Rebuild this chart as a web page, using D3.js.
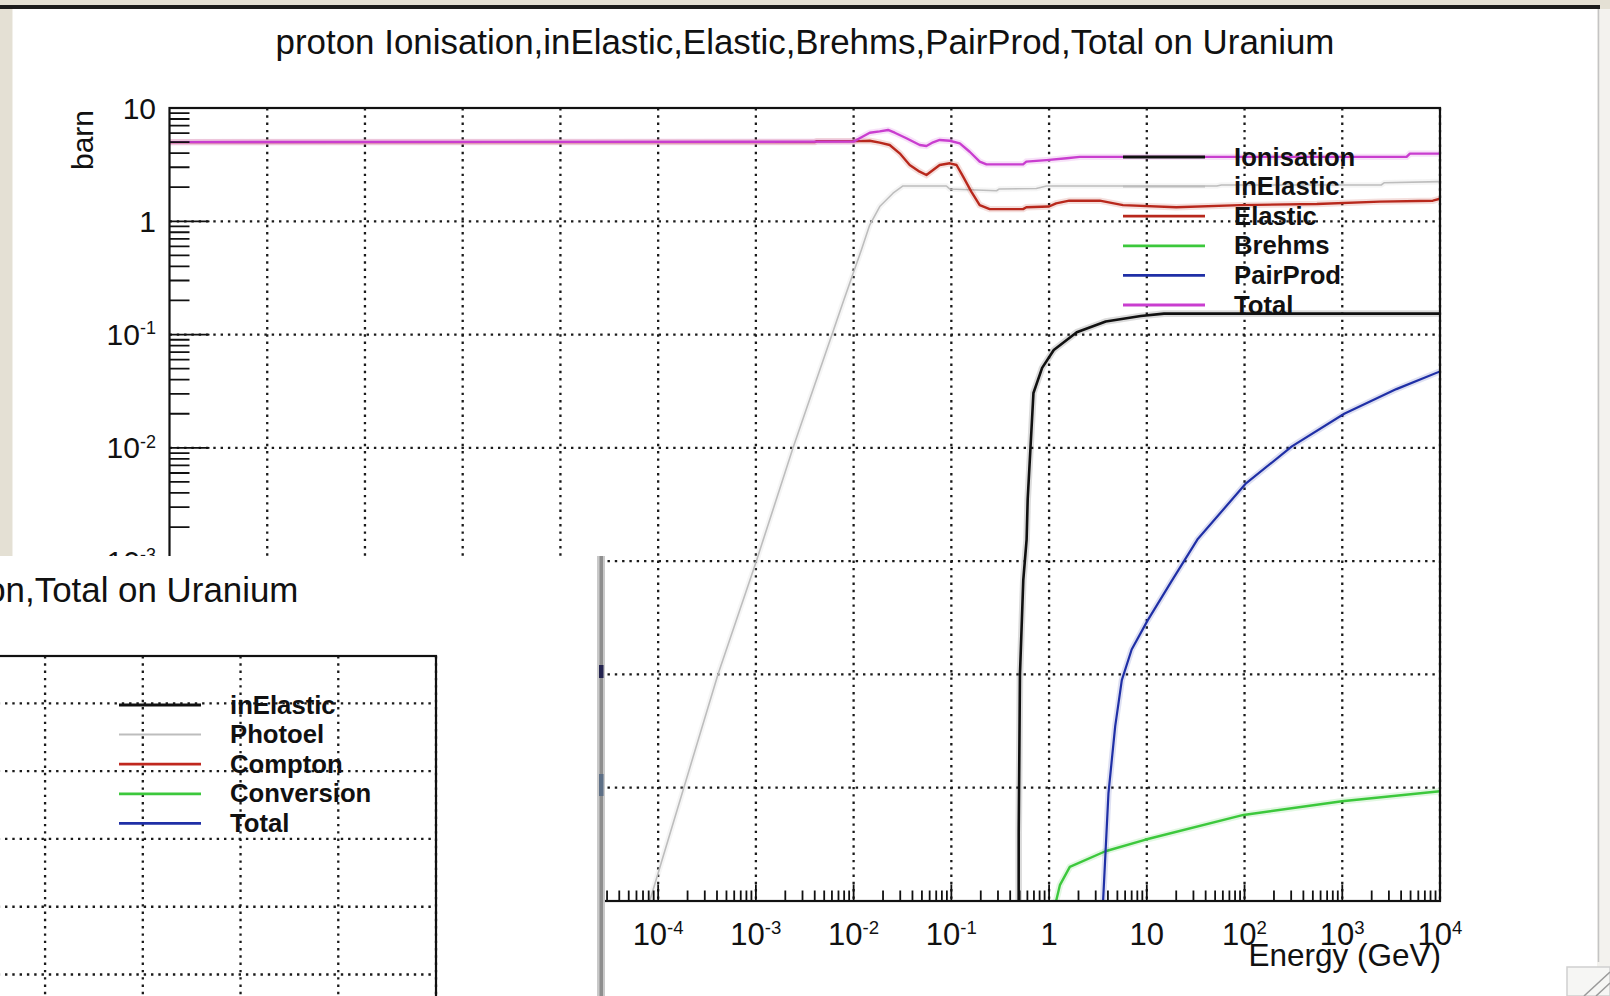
<!DOCTYPE html>
<html>
<head>
<meta charset="utf-8">
<script src="https://cdn.jsdelivr.net/npm/d3@7"></script>
<style>
    body { margin: 0; background: #e4e0d4; }
    svg { display: block; }
    text { font-family: "Liberation Sans", Arial, Helvetica, sans-serif; fill: #111; }
</style>
</head>
<body>
<div id="vis"></div>
<script>

const l = console.log

// energy (GeV), cross section (barn)
const ionisation = [[0.488, 1e-7], [0.489, 4e-6], [0.5035, 1.0e-4], [0.5445, 6.8e-4], [0.589, 1.55e-3],
    [0.604, 3.5e-3], [0.692, 0.0305], [0.849, 0.0508], [1.117, 0.0731], [1.92, 0.105],
    [3.80, 0.1306], [8.67, 0.146], [15.0, 0.153], [1e4, 0.153]];

const inElastic = [[3.7e-5, 1e-7], [8.2e-5, 1e-6], [4.09e-4, 1e-4], [1.01e-3, 1e-3], [2.40e-3, 1e-2],
    [6.01e-3, 0.1], [7.94e-3, 0.202], [0.0120, 0.558], [0.0146, 0.927], [0.0185, 1.35],
    [0.0253, 1.77], [0.032, 2.05], [0.089, 2.05], [0.096, 1.93], [0.29, 1.86], [0.31, 1.93],
    [0.74, 1.95], [0.94, 2.05], [52, 2.05], [58, 2.09], [2500, 2.09], [2700, 2.19], [1e4, 2.24]];

const elastic = [[1e-9, 5.0], [0.0040, 5.0], [0.0042, 5.1], [0.0115, 5.1], [0.0146, 5.14],
    [0.0185, 4.94], [0.0234, 4.71], [0.0296, 3.98], [0.0375, 3.14], [0.0474, 2.74], [0.0556, 2.56],
    [0.065, 2.84], [0.076, 3.14], [0.0964, 3.25], [0.113, 3.14], [0.132, 2.48], [0.16, 1.83],
    [0.195, 1.39], [0.247, 1.28], [0.542, 1.28], [0.585, 1.33], [1.0, 1.35], [1.18, 1.44],
    [1.61, 1.52], [3.3, 1.52], [5.7, 1.39], [20, 1.33], [90, 1.39], [550, 1.42], [2430, 1.49],
    [8450, 1.52], [1e4, 1.58]];

const brehms = [[1.17, 1e-7], [1.18, 1e-6], [1.29, 1.38e-6], [1.63, 2.0e-6], [3.77, 2.75e-6],
    [9.55, 3.47e-6], [97.5, 5.75e-6], [993, 7.6e-6], [1e4, 9.3e-6]];

const pairProd = [[3.55, 1e-7], [3.57, 1e-6], [4.05, 8.9e-6], [4.75, 3.5e-5], [5.55, 8.9e-5],
    [7.0, 1.66e-4], [10.2, 3.0e-4], [17.6, 6.5e-4], [32.9, 1.55e-3], [102, 4.8e-3],
    [305, 0.0103], [1047, 0.020], [3580, 0.033], [1e4, 0.0473]];

const total = [[1e-9, 5.0], [0.01, 5.05], [0.01153, 5.41], [0.01462, 6.05], [0.01849, 6.22],
    [0.0225, 6.40], [0.02636, 6.05], [0.0347, 5.41], [0.0475, 4.71], [0.0556, 4.62], [0.065, 4.98],
    [0.076, 5.22], [0.0963, 5.14], [0.122, 4.88], [0.154, 4.11], [0.195, 3.36], [0.229, 3.18],
    [0.542, 3.18], [0.585, 3.36], [0.94, 3.47], [1.51, 3.60], [2.06, 3.70], [4550, 3.70],
    [4920, 3.96], [1e4, 3.96]];

const protonNames = ["Ionisation", "inElastic", "Elastic", "Brehms", "PairProd", "Total"];
const protonSeries = [ionisation, inElastic, elastic, brehms, pairProd, total];
const protonColors = ["#111111", "#bdbdbd", "#b8281c", "#3cc83c", "#1f2fa6", "#c93ecf"];
const protonWidths = [2.6, 1.6, 2.4, 2.4, 2.2, 2.4];

// the second (partly hidden) window: only its title end, frame, grid and legend are on screen
const gammaNames = ["inElastic", "Photoel", "Compton", "Conversion", "Total"];
const gammaColors = ["#111111", "#bdbdbd", "#c0281e", "#3cc83c", "#1f2fa6"];
const gammaWidths = [2.6, 1.6, 2.4, 2.4, 2.2];

const protonTitle = "proton Ionisation,inElastic,Elastic,Brehms,PairProd,Total on Uranium";
const gammaTitle = "gamma inElastic,Photoel,Compton,Conversion,Total on Uranium";

const xDomain = [1e-9, 1e4];
const xExps = d3.range(-9, 5);          // 10^-9 .. 10^4
const protonYDomain = [1e-6, 10];
const protonYExps = d3.range(-6, 2);
const gammaYDomain = [1e-10, 50];
const gammaYExps = d3.range(-10, 2);

const W = 1610, H = 996;
const coverX = 605, coverY = 556;       // corner of the window lying on top

const svg = d3.select("#vis").append("svg")
    .attr("width", W)
    .attr("height", H);

const defs = svg.append("defs");

// desktop background
svg.append("rect").attr("width", W).attr("height", H).attr("fill", "#e4e0d4");

function powLabel(sel, k, size) {
    if (k === 0) sel.text("1");
    else if (k === 1) sel.text("10");
    else {
        sel.append("tspan").text("10");
        sel.append("tspan")
            .attr("dy", -size * 0.36)
            .attr("font-size", size * 0.6)
            .text(k);
    }
}

function drawCanvas(root, cfg) {
    const g = root.append("g").attr("transform", `translate(${cfg.dx},${cfg.dy})`);

    const x = d3.scaleLog().domain(xDomain).range([169.5, 1440]);
    const y = d3.scaleLog().domain(cfg.yDomain).range([901, 108]);
    const [x0, x1] = x.range();
    const [y0, y1] = y.range();

    // hidden parts (under the other window / off screen) get no text
    const shown = (px, py) => cfg.showAll ? !(px < coverX && py > coverY + 20) : false;

    defs.append("clipPath").attr("id", cfg.id + "-plot")
        .append("rect")
        .attr("x", x0).attr("y", y1)
        .attr("width", x1 - x0).attr("height", y0 - y1);

    // title
    g.append("text")
        .attr("x", 805).attr("y", 54)
        .attr("text-anchor", "middle")
        .attr("font-size", 34.9)
        .text(cfg.title);

    // grid
    const grid = g.append("g")
        .attr("stroke", "#1a1a1a")
        .attr("stroke-width", 2.3)
        .attr("stroke-dasharray", "2.4 4.9");
    xExps.filter(k => k > -9).forEach(k => {
        grid.append("line")
            .attr("x1", x(Math.pow(10, k))).attr("x2", x(Math.pow(10, k)))
            .attr("y1", y1).attr("y2", y0);
    });
    cfg.yExps.forEach(k => {
        const v = Math.pow(10, k);
        if (v <= cfg.yDomain[0] || v >= cfg.yDomain[1]) return;
        grid.append("line")
            .attr("x1", x0).attr("x2", x1)
            .attr("y1", y(v)).attr("y2", y(v));
    });

    // curves
    const line = d3.line()
        .x(d => x(d[0]))
        .y(d => y(d[1]));
    const curves = g.append("g").attr("clip-path", `url(#${cfg.id}-plot)`);
    cfg.series.forEach((s, i) => {
        curves.append("path")
            .attr("d", line(s))
            .attr("fill", "none")
            .attr("stroke", cfg.colors[i])
            .attr("stroke-opacity", 0.15)
            .attr("stroke-width", cfg.widths[i] + 4);
        curves.append("path")
            .attr("d", line(s))
            .attr("fill", "none")
            .attr("stroke", cfg.colors[i])
            .attr("stroke-linejoin", "round")
            .attr("stroke-width", cfg.widths[i]);
    });

    // frame
    g.append("rect")
        .attr("x", x0).attr("y", y1)
        .attr("width", x1 - x0).attr("height", y0 - y1)
        .attr("fill", "none")
        .attr("stroke", "#111")
        .attr("stroke-width", 2.2);

    // x ticks
    const ticks = g.append("g").attr("stroke", "#111").attr("stroke-width", 1.8);
    xExps.forEach(k => {
        const v = Math.pow(10, k);
        ticks.append("line")
            .attr("x1", x(v)).attr("x2", x(v))
            .attr("y1", y0).attr("y2", y0 - 16.5);
        if (k < 4) d3.range(2, 10).forEach(m => {
            ticks.append("line")
                .attr("x1", x(m * v)).attr("x2", x(m * v))
                .attr("y1", y0).attr("y2", y0 - 10.5);
        });
    });
    // y ticks
    cfg.yExps.forEach(k => {
        const v = Math.pow(10, k);
        if (v >= cfg.yDomain[0] && v <= cfg.yDomain[1]) {
            ticks.append("line")
                .attr("x1", x0).attr("x2", x0 + 40)
                .attr("y1", y(v)).attr("y2", y(v));
        }
        d3.range(2, 10).forEach(m => {
            const w = m * v;
            if (w <= cfg.yDomain[0] || w >= cfg.yDomain[1]) return;
            ticks.append("line")
                .attr("x1", x0).attr("x2", x0 + 20)
                .attr("y1", y(w)).attr("y2", y(w));
        });
    });

    // tick labels
    xExps.forEach(k => {
        const px = x(Math.pow(10, k));
        if (!shown(px, 945)) return;
        g.append("text")
            .attr("x", px)
            .attr("y", 945)
            .attr("text-anchor", "middle")
            .attr("font-size", 31)
            .call(powLabel, k, 31);
    });
    cfg.yExps.forEach(k => {
        const v = Math.pow(10, k);
        if (v < cfg.yDomain[0] || v > cfg.yDomain[1]) return;
        if (!shown(156, y(v) - 12)) return;
        g.append("text")
            .attr("x", 156)
            .attr("y", y(v) + 10.5)
            .attr("text-anchor", "end")
            .attr("font-size", 30)
            .call(powLabel, k, 30);
    });

    // axis titles
    if (cfg.showAll) {
        g.append("text")
            .attr("transform", "translate(93,110) rotate(-90)")
            .attr("text-anchor", "end")
            .attr("font-size", 30)
            .text(cfg.yTitle);
        g.append("text")
            .attr("x", 1441).attr("y", 966)
            .attr("text-anchor", "end")
            .attr("font-size", 31.5)
            .text("Energy (GeV)");
    }

    // legend (no fill, no border)
    const leg = g.append("g");
    cfg.names.forEach((name, i) => {
        const ly = 157 + i * 29.6;
        leg.append("line")
            .attr("x1", 1123).attr("x2", 1205)
            .attr("y1", ly).attr("y2", ly)
            .attr("stroke", cfg.colors[i])
            .attr("stroke-width", cfg.widths[i] + 0.4);
        leg.append("text")
            .attr("x", 1234).attr("y", ly + 8.5)
            .attr("font-size", 25.7)
            .attr("font-weight", "bold")
            .text(name);
    });
}

// ---- main window ----
svg.append("rect").attr("x", 0).attr("y", 5).attr("width", 1600).attr("height", 4).attr("fill", "#1c1c1c");
svg.append("rect").attr("x", 12.5).attr("y", 9).attr("width", 1587.5).attr("height", H - 9).attr("fill", "#ffffff");
svg.append("rect").attr("x", 1597).attr("y", 9).attr("width", 13).attr("height", H - 9).attr("fill", "#f3f2ee");
svg.append("line").attr("x1", 1598.5).attr("x2", 1598.5).attr("y1", 9).attr("y2", 962)
    .attr("stroke", "#c4c4c4").attr("stroke-width", 1.5);

defs.append("clipPath").attr("id", "mainWin")
    .append("rect").attr("x", 12.5).attr("y", 9).attr("width", 1584.5).attr("height", H - 9);

const mainWin = svg.append("g").attr("clip-path", "url(#mainWin)");
drawCanvas(mainWin, {
    id: "proton", dx: 0, dy: 0, showAll: true,
    title: protonTitle, yTitle: "barn",
    yDomain: protonYDomain, yExps: protonYExps,
    names: protonNames, series: protonSeries, colors: protonColors, widths: protonWidths
});

// resize grip
const grip = svg.append("g");
grip.append("rect").attr("x", 1567).attr("y", 967).attr("width", 43).attr("height", 29)
    .attr("fill", "#f6f6f4").attr("stroke", "#cfcfcf").attr("stroke-width", 1.5);
grip.append("line").attr("x1", 1584).attr("y1", 996).attr("x2", 1610).attr("y2", 972)
    .attr("stroke", "#9a9a9a").attr("stroke-width", 1.5);
grip.append("line").attr("x1", 1596).attr("y1", 996).attr("x2", 1610).attr("y2", 983)
    .attr("stroke", "#9a9a9a").attr("stroke-width", 1.5);

// ---- second window lying on top, shifted left and down ----
defs.append("clipPath").attr("id", "ovWin")
    .append("rect").attr("x", 0).attr("y", coverY).attr("width", 597).attr("height", H - coverY);

const ovWin = svg.append("g").attr("clip-path", "url(#ovWin)");
ovWin.append("rect").attr("x", 0).attr("y", coverY).attr("width", 597).attr("height", H - coverY).attr("fill", "#fff");
drawCanvas(ovWin, {
    id: "gamma", dx: -1004, dy: 548, showAll: false,
    title: gammaTitle, yTitle: "barn",
    yDomain: gammaYDomain, yExps: gammaYExps,
    names: gammaNames, series: [], colors: gammaColors, widths: gammaWidths
});

// its window border
svg.append("rect").attr("x", 597).attr("y", coverY).attr("width", 8).attr("height", H - coverY).attr("fill", "#c9c9c9");
svg.append("rect").attr("x", 599.5).attr("y", coverY).attr("width", 3.5).attr("height", H - coverY).attr("fill", "#8e8e8e");
svg.append("rect").attr("x", 599).attr("y", 665).attr("width", 4.5).attr("height", 13).attr("fill", "#23234f");
svg.append("rect").attr("x", 599).attr("y", 774).attr("width", 4.5).attr("height", 22).attr("fill", "#5d6f86");

</script>
</body>
</html>
